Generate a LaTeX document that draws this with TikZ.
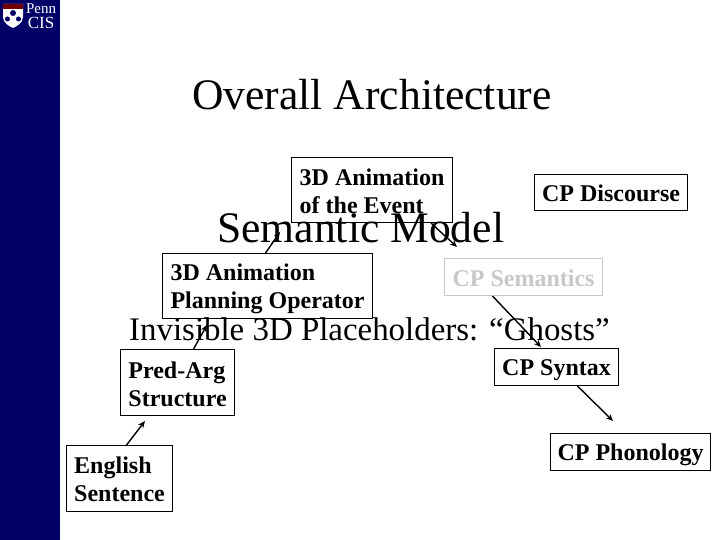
\documentclass[tikz,border=0pt]{standalone}
\usepackage{fontspec}
\setmainfont{Liberation Serif}
\usetikzlibrary{arrows.meta}
\definecolor{navy}{RGB}{0,0,102}
\definecolor{ghost}{RGB}{200,200,200}
\newcommand{\dn}[1]{\rule{0pt}{#1pt}}
\tikzset{
  x=1pt,y=-1pt,
  box/.style={draw=black,line width=1.1pt,inner ysep=0pt,inner xsep=6.5pt,anchor=north west,align=left,text=black,font=\fontsize{24}{28}\selectfont\bfseries},
  ghostbox/.style={box,draw=ghost,text=ghost},
  big/.style={inner sep=0pt,anchor=base west,font=\fontsize{43.6}{48}\selectfont},
  mid/.style={inner sep=0pt,anchor=base west,font=\fontsize{32.9}{36}\selectfont},
  logotext/.style={inner sep=0pt,text=white},
  conn/.style={line width=1.4pt,-{Stealth[length=7pt,width=6pt]}},
}
\begin{document}
\begin{tikzpicture}
\useasboundingbox (0,0) rectangle (720,540);
\fill[white] (0,0) rectangle (720,540);
\fill[navy] (0,0) rectangle (60,540);
% logo
\path[fill=white] (3,4) -- (23,4) -- (23,17) .. controls (23,23) and (17,26) .. (13,28) .. controls (9,26) and (3,23) .. (3,17) -- cycle;
\fill[red!45!black] (3,4) rectangle (23,9);
\fill[navy] (13,13) circle (3);
\fill[navy] (7.5,19) circle (2.5);
\fill[navy] (18.5,19) circle (2.5);
\node[logotext,font=\fontsize{15}{15}\selectfont] (lpenn) at (41,9) {Penn};
\node[logotext,font=\fontsize{17}{17}\selectfont] (lcis) at (41,23) {CIS};
% headings
\node[big] (title) at (192,110) {Overall Architecture};
\node[big] (sem) at (217,242) {Semantic Model};
\node[mid] (inv) at (129,340) {Invisible 3D Placeholders: “Ghosts”};
% boxes
\node[box,minimum width=161pt,minimum height=65pt] (event) at (291,157) {\dn{20}3D Animation\\of the Event};
\node[box,minimum width=153pt,minimum height=36pt] (disc) at (534,174) {\dn{19}CP Discourse};
\node[box,minimum width=210pt,minimum height=65pt] (plan) at (162,253) {\dn{22}3D Animation\\Planning Operator};
\node[ghostbox,minimum width=158pt,minimum height=37pt] (csem) at (444,258) {\dn{19}CP Semantics};
\node[box,minimum width=114pt,minimum height=66pt] (pred) at (120,349) {\dn{20}Pred-Arg\\Structure};
\node[box,minimum width=106pt,minimum height=66pt] (eng) at (66,445) {\dn{18}English\\Sentence};
\node[box,minimum width=124pt,minimum height=37pt] (syn) at (494,348) {\dn{23}CP Syntax};
\node[box,minimum width=160pt,minimum height=37pt] (pho) at (550,433) {\dn{23}CP Phonology};
% connectors
\coordinate (e1) at (145,421);
\coordinate (e3) at (207,325);
\coordinate (e4) at (280,232);
\coordinate (e5) at (457,247);
\coordinate (e6) at (541,347);
\coordinate (e7) at (613,421);
\draw[conn] ([xshift=7pt]eng.north) -- (e1);
\draw[conn] ([xshift=16pt]pred.north) -- (e3);
\draw[conn] ([xshift=-2pt]plan.north) -- (e4);
\draw[conn] ([xshift=59pt]event.south) -- (e5);
\draw[conn] ([xshift=-31pt]csem.south) -- (e6);
\draw[conn] ([xshift=21pt]syn.south) -- (e7);
\end{tikzpicture}
\end{document}
